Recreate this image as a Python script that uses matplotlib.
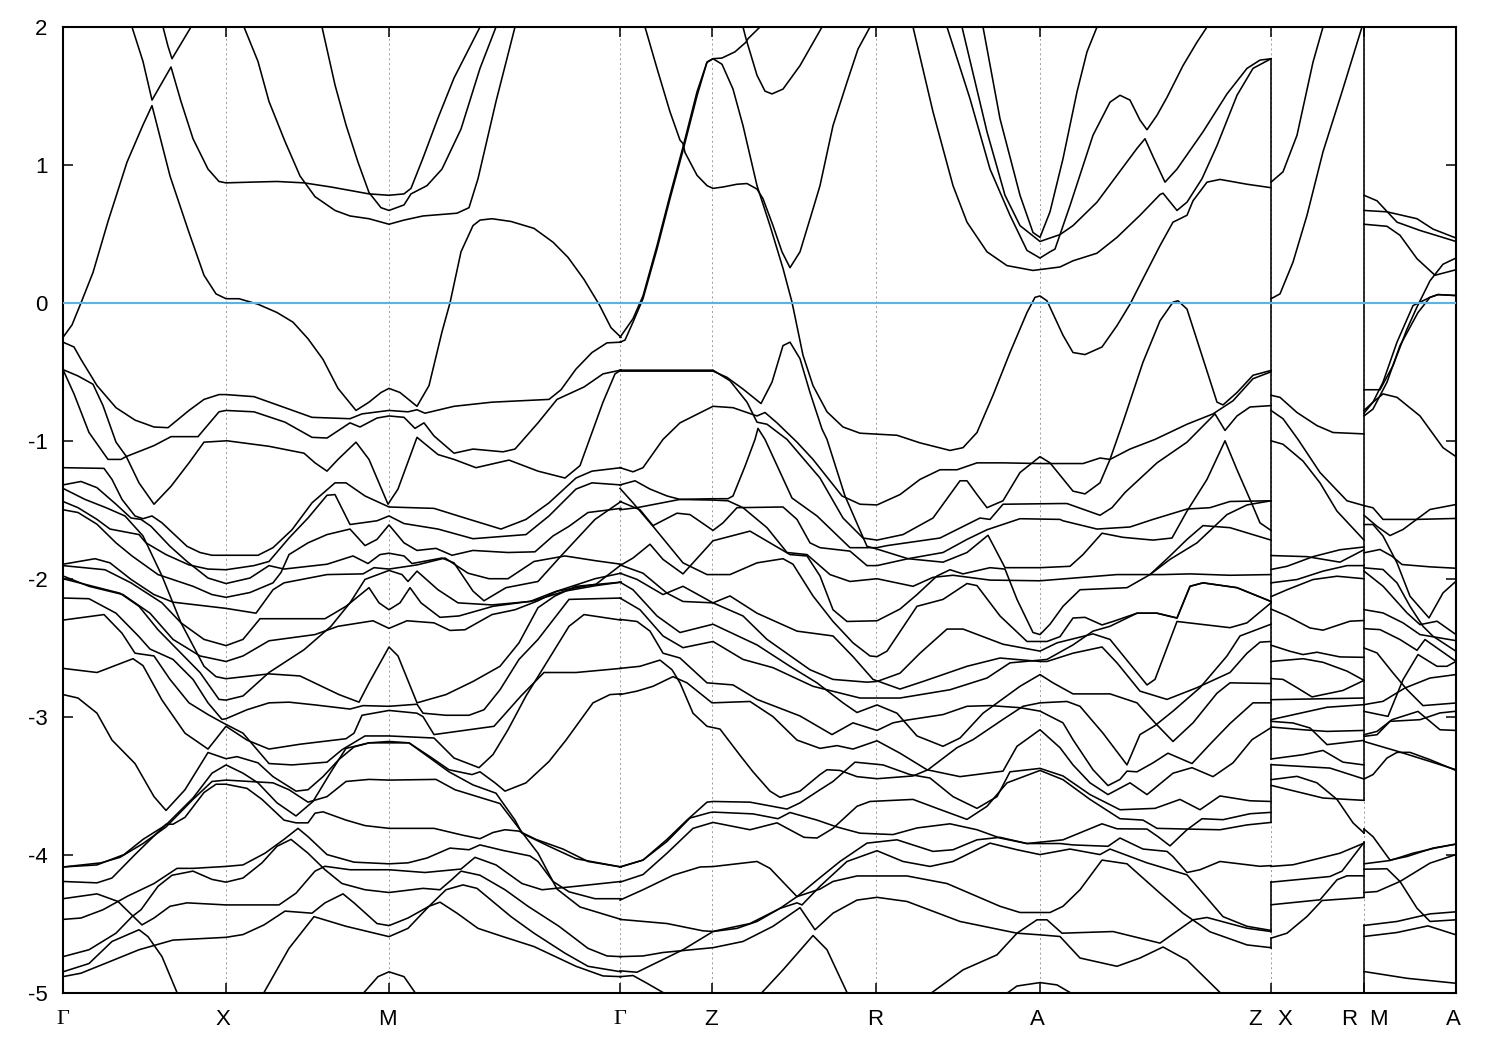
import matplotlib
matplotlib.use("Agg")
import matplotlib.pyplot as plt

# high symmetry points along the k path
node_k = [0, 163, 326, 557, 649, 813, 977, 1208, 1301, 1393]
label_names = ["Γ", "X", "M", "Γ", "Z", "R", "A", "Z", "X", "R", "M", "A"]
label_k = [0, 160, 324, 557, 648, 812, 974, 1192, 1222, 1286, 1315, 1390]
e_ticks = [2, 1, 0, -1, -2, -3, -4, -5]
e_tick_labels = ["2", "1", "0", "-1", "-2", "-3", "-4", "-5"]

# Gamma - X - M - Gamma, (k, E)
a_cond1 = [(0,-0.25),(9,-0.16),(18,0),(30,0.22),(45,0.59),(64,1.02),(80,1.29),(89,1.43),(107,0.92),(126,0.51),(141,0.2),(153,0.065),(163,0.03),(176,0.03),(195,-0.01),(214,-0.07),(230,-0.14),(245,-0.26),(260,-0.41),(275,-0.62),(293,-0.78),(306,-0.72),(318,-0.65),(326,-0.62),(337,-0.65),(354,-0.75),(366,-0.6),(379,-0.21),(387,0),(398,0.37),(410,0.56),(417,0.6),(429,0.61),(448,0.59),(471,0.54),(490,0.44),(505,0.33),(521,0.17),(536,-0.01),(548,-0.18),(558,-0.25)]
a_cond2 = [(69,2.0),(80,1.75),(89,1.47),(108,1.71),(118,1.46),(130,1.19),(145,0.97),(156,0.88),(163,0.87),(187,0.875),(214,0.88),(241,0.87),(268,0.84),(306,0.79),(326,0.78),(341,0.79),(348,0.83),(360,1.05),(375,1.34),(391,1.63),(417,2.0)]
a_cond3 = [(100,2.0),(105,1.86),(109,1.77),(128,2.0)]
a_cond4 = [(181,2.0),(195,1.75),(206,1.46),(222,1.17),(237,0.92),(252,0.77),(272,0.67),(287,0.63),(306,0.61),(326,0.57),(341,0.6),(360,0.63),(394,0.65),(406,0.69),(415,0.9),(433,1.46),(452,2.0)]
a_cond5 = [(259,2.0),(272,1.58),(283,1.29),(295,1.02),(306,0.8),(318,0.69),(326,0.67),(341,0.71),(348,0.79),(364,0.85),(379,0.97),(398,1.26),(417,1.7),(433,2.0)]
a_val1 = [(0,-0.285),(11,-0.32),(18,-0.41),(34,-0.6),(53,-0.76),(72,-0.85),(91,-0.9),(105,-0.905),(126,-0.78),(141,-0.7),(156,-0.665),(163,-0.665),(191,-0.68),(222,-0.76),(249,-0.83),(287,-0.84),(299,-0.805),(326,-0.78),(345,-0.79),(354,-0.775),(362,-0.8),(391,-0.75),(429,-0.72),(486,-0.7),(498,-0.63),(513,-0.48),(529,-0.36),(544,-0.29),(558,-0.285)]
a_val2 = [(0,-0.484),(15,-0.53),(30,-0.59),(40,-0.745),(53,-1.01),(63,-1.11),(76,-1.305),(91,-1.46),(108,-1.33),(126,-1.16),(141,-1.01),(164,-1.0),(206,-1.04),(241,-1.09),(252,-1.16),(264,-1.22),(275,-1.135),(293,-1.01),(306,-1.135),(325,-1.46),(335,-1.35),(354,-0.975),(375,-1.1),(391,-1.135),(413,-1.195),(446,-1.14),(475,-1.22),(502,-1.27),(517,-1.18),(529,-0.94),(540,-0.72),(552,-0.515),(558,-0.487)]
a_val3 = [(0,-0.484),(11,-0.66),(26,-0.94),(45,-1.135),(58,-1.135),(63,-1.115),(91,-1.035),(108,-0.97),(135,-0.97),(156,-0.79),(163,-0.78),(191,-0.79),(222,-0.865),(249,-0.975),(264,-0.98),(287,-0.87),(297,-0.9),(314,-0.835),(326,-0.82),(341,-0.83),(352,-0.91),(361,-0.87),(371,-0.965),(391,-1.09),(410,-1.06),(440,-1.08),(452,-1.06),(475,-0.87),(494,-0.7),(521,-0.61),(540,-0.515),(558,-0.487)]
a_mid1 = [(0,-1.195),(41,-1.2),(49,-1.28),(59,-1.425),(72,-1.545),(80,-1.565),(89,-1.545),(99,-1.595),(124,-1.765),(137,-1.81),(149,-1.83),(195,-1.83),(210,-1.775),(229,-1.645),(249,-1.45),(272,-1.305),(283,-1.305),(302,-1.40),(326,-1.48),(371,-1.49),(402,-1.56),(438,-1.64),(463,-1.57),(486,-1.45),(513,-1.27),(529,-1.22),(558,-1.195)]
a_mid2 = [(0,-1.44),(15,-1.485),(34,-1.57),(47,-1.64),(76,-1.68),(83,-1.74),(103,-1.825),(126,-1.9),(145,-1.93),(163,-1.935),(191,-1.905),(206,-1.875),(226,-1.705),(245,-1.56),(264,-1.395),(272,-1.39),(287,-1.607),(314,-1.58),(326,-1.545),(341,-1.6),(375,-1.64),(410,-1.71),(463,-1.68),(486,-1.545),(513,-1.35),(529,-1.305),(558,-1.32)]
a_mid3 = [(0,-1.32),(18,-1.295),(34,-1.34),(53,-1.46),(68,-1.56),(78,-1.57),(88,-1.62),(107,-1.765),(124,-1.875),(145,-1.995),(163,-2.035),(187,-1.995),(206,-1.905),(221,-1.93),(264,-1.895),(290,-1.835),(305,-1.89),(317,-1.825),(326,-1.815),(341,-1.835),(349,-1.89),(379,-1.85),(391,-1.885),(410,-2.09),(421,-2.16),(443,-2.065),(475,-2.02),(498,-1.835),(532,-1.57),(558,-1.44)]
a_mid4 = [(0,-1.50),(15,-1.52),(34,-1.605),(53,-1.74),(69,-1.835),(95,-1.97),(130,-2.055),(149,-2.115),(163,-2.135),(187,-2.1),(210,-2.03),(218,-1.955),(226,-1.825),(245,-1.74),(264,-1.68),(287,-1.64),(302,-1.76),(314,-1.715),(326,-1.61),(341,-1.74),(354,-1.795),(373,-1.78),(389,-1.83),(410,-1.795),(445,-1.81),(472,-1.805),(490,-1.69),(506,-1.62),(525,-1.52),(558,-1.49)]
a_mid5 = [(0,-1.895),(32,-1.855),(47,-1.885),(68,-2.005),(91,-2.115),(110,-2.17),(163,-2.215),(193,-2.25),(210,-2.08),(221,-2.03),(264,-1.97),(300,-1.965),(311,-1.92),(326,-1.93),(354,-1.90),(382,-1.85),(405,-1.96),(426,-2.0),(445,-2.0),(471,-1.875),(502,-1.835),(533,-1.87),(558,-1.895)]
a_mid6 = [(0,-1.905),(42,-1.935),(68,-2.03),(99,-2.175),(118,-2.32),(141,-2.44),(163,-2.485),(180,-2.44),(197,-2.29),(262,-2.29),(283,-2.2),(306,-2.065),(316,-2.175),(326,-2.225),(337,-2.175),(347,-2.065),(358,-2.175),(377,-2.28),(396,-2.27),(430,-2.2),(471,-2.16),(502,-2.09),(533,-2.05),(558,-2.025)]
a_mid7 = [(0,-1.98),(26,-2.055),(60,-2.115),(87,-2.25),(110,-2.44),(137,-2.56),(163,-2.6),(180,-2.56),(206,-2.45),(252,-2.405),(275,-2.345),(310,-2.305),(326,-2.36),(344,-2.305),(371,-2.32),(387,-2.375),(402,-2.37),(429,-2.26),(452,-2.225),(475,-2.16),(494,-2.09),(533,-2.04),(558,-1.9)]
a_mid8 = [(0,-2.0),(57,-2.105),(76,-2.2),(95,-2.37),(118,-2.54),(137,-2.68),(156,-2.875),(163,-2.88),(180,-2.85),(206,-2.68),(241,-2.515),(268,-2.345),(287,-2.175),(302,-2.005),(326,-1.94),(339,-1.97),(345,-2.02),(354,-1.945),(375,-2.08),(395,-2.175),(429,-2.19),(467,-2.165),(490,-2.1),(532,-2.0),(558,-1.96)]
a_mid9 = [(0,-1.345),(22,-1.425),(43,-1.485),(62,-1.545),(80,-1.69),(99,-1.98),(118,-2.32),(141,-2.635),(153,-2.71),(163,-2.725),(206,-2.69),(237,-2.705),(276,-2.84),(296,-2.895),(306,-2.755),(326,-2.495),(335,-2.56),(354,-2.9),(383,-2.84),(410,-2.745),(437,-2.635),(456,-2.465),(475,-2.21),(492,-2.125),(513,-2.055),(558,-2.025)]
a_low1 = [(0,-2.14),(26,-2.145),(53,-2.25),(76,-2.42),(87,-2.51),(110,-2.585),(130,-2.73),(145,-2.9),(159,-3.02),(163,-3.015),(184,-2.95),(206,-2.9),(226,-2.895),(252,-2.915),(287,-2.945),(300,-2.92),(326,-2.925),(354,-2.91),(360,-2.975),(383,-2.99),(406,-2.99),(421,-2.95),(437,-2.805),(456,-2.585),(475,-2.44),(506,-2.15),(558,-2.14)]
a_low2 = [(0,-2.65),(34,-2.68),(70,-2.58),(80,-2.63),(99,-2.88),(122,-3.12),(145,-3.235),(163,-3.07),(184,-3.17),(206,-3.235),(237,-3.2),(283,-3.16),(291,-3.12),(299,-2.99),(326,-2.955),(354,-2.975),(360,-3.0),(371,-3.13),(431,-3.07),(458,-2.85),(481,-2.68),(513,-2.68),(558,-2.65)]
a_low3 = [(0,-2.3),(41,-2.26),(59,-2.395),(72,-2.54),(91,-2.56),(107,-2.73),(126,-2.9),(145,-2.985),(160,-3.045),(180,-3.12),(206,-3.34),(229,-3.35),(264,-3.33),(279,-3.24),(302,-3.14),(326,-3.14),(371,-3.155),(391,-3.3),(416,-3.37),(430,-3.275),(445,-3.095),(463,-2.85),(506,-2.345),(521,-2.26),(558,-2.3)]
a_low4 = [(0,-2.84),(15,-2.865),(34,-2.975),(49,-3.17),(72,-3.34),(91,-3.58),(103,-3.68),(122,-3.53),(145,-3.26),(163,-3.305),(174,-3.29),(195,-3.335),(210,-3.435),(233,-3.54),(245,-3.53),(260,-3.435),(276,-3.31),(291,-3.22),(306,-3.19),(326,-3.18),(346,-3.19),(367,-3.29),(386,-3.385),(409,-3.42),(417,-3.40),(432,-3.48),(442,-3.54),(463,-3.48),(486,-3.325),(503,-3.17),(530,-2.9),(547,-2.84),(558,-2.835)]
a_low5 = [(0,-4.09),(34,-4.075),(61,-4.0),(80,-3.89),(103,-3.785),(130,-3.59),(149,-3.41),(163,-3.35),(180,-3.41),(195,-3.48),(214,-3.625),(233,-3.72),(250,-3.615),(268,-3.40),(283,-3.23),(306,-3.19),(326,-3.19),(346,-3.19),(367,-3.30),(386,-3.40),(410,-3.495),(433,-3.555),(452,-3.75),(459,-3.845),(486,-3.94),(513,-4.03),(558,-4.09)]
a_low6 = [(0,-4.09),(38,-4.06),(57,-4.02),(80,-3.92),(103,-3.8),(130,-3.6),(149,-3.47),(163,-3.46),(210,-3.48),(226,-3.53),(245,-3.62),(264,-3.58),(283,-3.47),(306,-3.455),(326,-3.46),(373,-3.455),(392,-3.53),(437,-3.63),(456,-3.81),(475,-3.99),(494,-4.25),(517,-4.38),(558,-4.47)]
a_low7 = [(0,-4.195),(34,-4.205),(49,-4.17),(72,-4.0),(103,-3.78),(110,-3.78),(122,-3.73),(141,-3.55),(153,-3.49),(163,-3.49),(184,-3.52),(199,-3.6),(221,-3.75),(233,-3.77),(245,-3.77),(252,-3.7),(260,-3.69),(283,-3.75),(302,-3.79),(326,-3.81),(371,-3.81),(400,-3.86),(417,-3.885),(430,-3.84),(442,-3.82),(456,-3.83),(473,-3.89),(500,-3.96),(525,-4.05),(558,-4.09)]
a_deep1 = [(0,-4.32),(34,-4.285),(55,-4.34),(79,-4.51),(91,-4.46),(107,-4.375),(124,-4.35),(163,-4.365),(216,-4.365),(233,-4.28),(252,-4.12),(262,-4.085),(287,-4.11),(326,-4.11),(362,-4.13),(398,-4.105),(412,-4.02),(433,-4.075),(459,-4.21),(479,-4.255),(513,-4.23),(558,-4.195)]
a_deep2 = [(0,-4.47),(18,-4.46),(40,-4.40),(65,-4.30),(91,-4.21),(114,-4.10),(130,-4.1),(163,-4.086),(180,-4.075),(202,-3.99),(221,-3.89),(235,-3.81),(245,-3.87),(264,-4.0),(291,-4.055),(326,-4.067),(345,-4.06),(364,-4.025),(387,-3.953),(406,-3.965),(417,-3.93),(440,-3.97),(467,-4.01),(475,-4.05),(490,-4.195),(506,-4.27),(532,-4.32),(558,-4.32)]
a_deep3 = [(0,-4.74),(26,-4.69),(53,-4.57),(69,-4.45),(78,-4.40),(95,-4.23),(109,-4.15),(130,-4.12),(149,-4.18),(163,-4.2),(180,-4.17),(199,-4.06),(214,-3.94),(228,-3.89),(245,-3.99),(262,-4.11),(279,-4.21),(302,-4.255),(326,-4.275),(360,-4.245),(377,-4.255),(389,-4.18),(398,-4.12),(417,-4.15),(442,-4.255),(465,-4.375),(496,-4.52),(525,-4.68),(544,-4.735),(558,-4.74)]
a_deep4 = [(0,-4.885),(18,-4.86),(42,-4.79),(76,-4.69),(110,-4.62),(163,-4.6),(180,-4.58),(201,-4.51),(222,-4.41),(249,-4.425),(262,-4.35),(280,-4.285),(291,-4.35),(314,-4.5),(326,-4.515),(345,-4.46),(366,-4.375),(377,-4.345),(394,-4.425),(415,-4.535),(440,-4.595),(471,-4.667),(513,-4.81),(540,-4.88),(558,-4.885)]
a_deep5 = [(0,-4.85),(26,-4.79),(49,-4.63),(76,-4.545),(85,-4.595),(99,-4.74),(114,-5.0)]
a_deep6 = [(201,-5.0),(226,-4.68),(251,-4.45),(283,-4.52),(326,-4.595),(345,-4.535),(366,-4.375),(383,-4.255),(400,-4.22),(414,-4.245),(448,-4.45),(471,-4.57),(502,-4.715),(525,-4.81),(558,-4.85)]
a_deep7 = [(301,-5.0),(315,-4.885),(326,-4.85),(341,-4.885),(352,-5.0)]

# Gamma - Z - R - A - Z
b_cond1 = [(557,-0.25),(570,-0.115),(580,0.05),(594,0.415),(607,0.78),(620,1.13),(634,1.53),(644,1.745),(650,1.77),(659,1.73),(670,1.55),(680,1.285),(694,0.85),(707,0.56),(720,0.25),(729,0.005),(740,-0.38),(750,-0.6),(764,-0.79),(780,-0.9),(797,-0.945),(834,-0.96),(857,-1.015),(887,-1.07),(900,-1.05),(914,-0.94),(930,-0.67),(947,-0.36),(964,-0.07),(972,0.04),(977,0.05),(984,0.015),(1000,-0.235),(1010,-0.36),(1022,-0.375),(1039,-0.32),(1054,-0.165),(1067,-0.01),(1080,0.175),(1097,0.415),(1110,0.585),(1124,0.635),(1130,0.74),(1144,0.875),(1157,0.895),(1184,0.86),(1208,0.835)]
b_cond2 = [(557,-0.285),(562,-0.27),(570,-0.14),(580,0.03),(594,0.39),(607,0.755),(620,1.105),(634,1.5),(644,1.745),(650,1.77),(659,1.775),(672,1.82),(683,1.89),(685,1.915),(697,2.0)]
b_cond3 = [(680,2.0),(683,1.915),(694,1.65),(702,1.535),(709,1.515),(720,1.55),(737,1.72),(759,2.0)]
b_cond4 = [(582,2.0),(594,1.70),(607,1.385),(617,1.18),(620,1.155),(622,1.09),(634,0.925),(644,0.85),(650,0.83),(660,0.84),(674,0.86),(684,0.865),(694,0.825),(700,0.755),(710,0.56),(719,0.37),(727,0.255),(737,0.37),(750,0.68),(757,0.85),(770,1.285),(784,1.6),(795,1.84),(807,2.0)]
b_cond5 = [(920,2.0),(937,1.335),(957,0.78),(970,0.51),(977,0.475),(987,0.66),(1000,1.045),(1014,1.53),(1024,1.82),(1034,2.0)]
b_cond6 = [(884,2.0),(907,1.48),(927,0.97),(947,0.635),(964,0.38),(977,0.325),(987,0.37),(992,0.39),(1007,0.705),(1030,1.215),(1047,1.455),(1057,1.505),(1067,1.47),(1077,1.325),(1084,1.255),(1094,1.36),(1104,1.49),(1120,1.72),(1134,1.89),(1144,2.0)]
b_cond7 = [(899,2.0),(924,1.24),(942,0.78),(957,0.56),(977,0.445),(997,0.495),(1010,0.56),(1034,0.73),(1054,0.925),(1074,1.12),(1082,1.19),(1091,1.045),(1102,0.875),(1114,0.97),(1140,1.24),(1164,1.515),(1184,1.7),(1197,1.76),(1208,1.77)]
b_cond8 = [(850,2.0),(870,1.385),(890,0.85),(904,0.585),(924,0.37),(944,0.27),(970,0.235),(997,0.26),(1010,0.305),(1034,0.36),(1054,0.475),(1077,0.635),(1097,0.785),(1100,0.795),(1114,0.67),(1124,0.73),(1139,0.9),(1154,1.14),(1174,1.505),(1190,1.7),(1208,1.77)]
b_mid1 = [(557,-1.195),(570,-1.225),(580,-1.195),(600,-0.99),(617,-0.87),(650,-0.75),(670,-0.76),(694,-0.82),(702,-0.795),(714,-0.87),(734,-1.01),(750,-1.135),(779,-1.4),(797,-1.46),(814,-1.465),(837,-1.39),(857,-1.28),(877,-1.21),(894,-1.21),(914,-1.16),(940,-1.16),(977,-1.165),(1020,-1.165),(1037,-1.125),(1047,-1.135),(1067,-1.06),(1092,-0.99),(1124,-0.88),(1150,-0.805),(1170,-0.71),(1190,-0.55),(1208,-0.5)]
b_mid2 = [(557,-0.488),(650,-0.488),(667,-0.565),(684,-0.72),(694,-0.865),(704,-0.88),(724,-0.99),(757,-1.27),(780,-1.56),(800,-1.705),(814,-1.72),(840,-1.68),(870,-1.56),(897,-1.29),(904,-1.29),(914,-1.39),(924,-1.485),(940,-1.435),(957,-1.23),(977,-1.115),(987,-1.16),(1010,-1.365),(1022,-1.385),(1037,-1.305),(1047,-1.135),(1054,-0.99),(1060,-0.865),(1080,-0.43),(1097,-0.13),(1110,0.005),(1115,0.015),(1124,-0.045),(1140,-0.405),(1154,-0.72),(1160,-0.74),(1174,-0.65),(1190,-0.525),(1208,-0.49)]
b_mid3 = [(557,-0.495),(650,-0.495),(664,-0.54),(680,-0.625),(698,-0.73),(709,-0.575),(720,-0.31),(727,-0.285),(737,-0.405),(747,-0.65),(759,-0.915),(764,-0.99),(782,-1.4),(804,-1.765),(814,-1.785),(845,-1.855),(880,-1.88),(904,-1.81),(925,-1.685),(942,-1.92),(977,-1.92),(1007,-1.91),(1020,-1.825),(1039,-1.67),(1060,-1.7),(1090,-1.72),(1109,-1.705),(1124,-1.51),(1144,-1.28),(1162,-1.0),(1174,-1.21),(1187,-1.425),(1197,-1.595),(1208,-1.65)]
b_mid4 = [(557,-1.32),(572,-1.29),(587,-1.35),(604,-1.4),(617,-1.425),(650,-1.43),(665,-1.435),(680,-1.485),(704,-1.63),(724,-1.81),(744,-1.825),(767,-1.97),(787,-2.02),(814,-2.0),(850,-2.055),(870,-1.99),(890,-1.975),(927,-2.01),(977,-2.015),(1054,-1.97),(1100,-1.97),(1127,-1.965),(1167,-1.975),(1208,-1.97)]
b_mid5 = [(557,-1.5),(574,-1.485),(617,-1.425),(650,-1.42),(665,-1.42),(670,-1.4),(682,-1.185),(692,-0.99),(695,-0.91),(702,-0.99),(729,-1.415),(754,-1.545),(787,-1.775),(814,-1.775),(824,-1.76),(877,-1.705),(917,-1.56),(927,-1.57),(940,-1.46),(997,-1.455),(1004,-1.455),(1037,-1.54),(1049,-1.485),(1062,-1.375),(1094,-1.16),(1124,-1.01),(1152,-0.805),(1162,-0.925),(1174,-0.82),(1187,-0.755),(1208,-0.745)]
b_mid6 = [(557,-1.44),(577,-1.5),(590,-1.615),(614,-1.525),(627,-1.535),(650,-1.65),(660,-1.595),(674,-1.485),(720,-1.48),(734,-1.57),(747,-1.74),(757,-1.775),(787,-1.8),(804,-1.905),(814,-1.905),(845,-1.855),(880,-1.81),(904,-1.715),(924,-1.645),(957,-1.565),(997,-1.57),(1000,-1.58),(1034,-1.64),(1067,-1.625),(1090,-1.57),(1124,-1.495),(1147,-1.485),(1167,-1.44),(1208,-1.435)]
b_mid7 = [(557,-1.905),(570,-1.85),(587,-1.75),(600,-1.86),(620,-1.965),(650,-1.725),(687,-1.655),(707,-1.74),(727,-1.825),(744,-1.835),(757,-1.98),(770,-2.225),(784,-2.31),(814,-2.305),(837,-2.22),(854,-2.115),(874,-1.98),(887,-1.935),(900,-1.965),(927,-1.92),(942,-1.93),(954,-2.15),(970,-2.39),(977,-2.405),(987,-2.33),(1000,-2.2),(1017,-2.08),(1064,-2.065),(1087,-1.97),(1107,-1.835),(1124,-1.715),(1140,-1.615),(1167,-1.63),(1208,-1.72)]
b_mid7b = [(1087,-1.97),(1107,-1.86),(1134,-1.74),(1164,-1.535),(1184,-1.465),(1208,-1.435)]
b_mid8 = [(557,-1.345),(570,-1.45),(590,-1.62),(620,-1.885),(644,-1.97),(667,-1.97),(694,-1.885),(720,-1.855),(730,-1.895),(750,-2.125),(770,-2.31),(790,-2.465),(807,-2.56),(814,-2.565),(824,-2.525),(854,-2.2),(880,-2.15),(904,-2.035),(914,-2.05),(937,-2.27),(964,-2.455),(984,-2.455),(997,-2.42),(1010,-2.285),(1022,-2.28),(1039,-2.335),(1050,-2.31),(1074,-2.25),(1094,-2.25),(1114,-2.285),(1127,-2.055),(1140,-2.03),(1174,-2.065),(1208,-2.165)]
b_mid9 = [(557,-1.96),(574,-2.005),(600,-2.115),(620,-2.055),(650,-2.175),(667,-2.125),(694,-2.25),(734,-2.38),(770,-2.415),(790,-2.565),(810,-2.73),(837,-2.8),(860,-2.745),(904,-2.635),(937,-2.575),(977,-2.6),(984,-2.6),(1010,-2.54),(1039,-2.495),(1054,-2.61),(1077,-2.815),(1104,-2.875),(1134,-2.79),(1167,-2.68),(1184,-2.54),(1197,-2.46),(1208,-2.455)]
b_mid10 = [(557,-1.9),(580,-1.96),(604,-2.105),(620,-2.165),(650,-2.175),(680,-2.27),(704,-2.44),(747,-2.66),(770,-2.73),(804,-2.75),(814,-2.745),(837,-2.685),(857,-2.54),(884,-2.365),(900,-2.365),(940,-2.475),(977,-2.525),(994,-2.465),(1030,-2.40),(1047,-2.44),(1084,-2.77),(1092,-2.73),(1114,-2.31),(1167,-2.355),(1184,-2.32),(1208,-2.175)]
b_low1 = [(557,-2.025),(570,-2.08),(594,-2.27),(617,-2.39),(650,-2.33),(694,-2.48),(727,-2.635),(754,-2.755),(780,-2.9),(794,-2.97),(814,-2.915),(834,-2.975),(854,-3.14),(880,-3.215),(897,-3.155),(920,-2.975),(957,-2.78),(977,-2.695),(990,-2.755),(1010,-2.835),(1047,-2.835),(1074,-2.9),(1092,-3.045),(1110,-3.18),(1130,-3.045),(1154,-2.83),(1167,-2.755),(1208,-2.76)]
b_low2 = [(557,-2.14),(577,-2.225),(600,-2.415),(620,-2.5),(650,-2.455),(680,-2.585),(710,-2.645),(750,-2.78),(797,-2.865),(837,-2.865),(887,-2.805),(924,-2.72),(947,-2.61),(977,-2.59),(984,-2.585),(1010,-2.48),(1030,-2.38),(1047,-2.345),(1074,-2.25),(1094,-2.25),(1114,-2.285),(1127,-2.055),(1140,-2.03),(1174,-2.065),(1208,-2.165)]
b_low3 = [(557,-2.295),(574,-2.31),(587,-2.38),(600,-2.54),(617,-2.575),(644,-2.755),(670,-2.77),(694,-2.875),(737,-2.995),(769,-3.13),(790,-3.045),(814,-3.1),(830,-3.045),(844,-3.025),(880,-2.985),(904,-2.925),(927,-2.92),(957,-2.935),(977,-2.96),(1000,-3.045),(1010,-3.167),(1030,-3.385),(1045,-3.5),(1057,-3.455),(1064,-3.395),(1074,-3.4),(1090,-3.335),(1105,-3.265),(1129,-3.34),(1147,-3.2),(1167,-3.05),(1190,-2.9),(1208,-2.9)]
b_low4 = [(557,-2.65),(577,-2.635),(597,-2.59),(609,-2.66),(617,-2.755),(630,-2.975),(644,-3.07),(657,-3.09),(677,-3.28),(690,-3.40),(707,-3.54),(717,-3.585),(737,-3.54),(757,-3.42),(764,-3.385),(777,-3.39),(794,-3.435),(814,-3.45),(850,-3.43),(865,-3.385),(894,-3.225),(910,-3.167),(940,-3.02),(960,-2.925),(977,-2.9),(1004,-2.89),(1017,-2.925),(1040,-3.12),(1064,-3.35),(1077,-3.13),(1092,-3.065),(1110,-2.96),(1137,-2.79),(1164,-2.56),(1177,-2.415),(1208,-2.33)]
b_low5 = [(557,-2.84),(574,-2.815),(590,-2.78),(610,-2.71),(624,-2.755),(649,-2.9),(687,-2.89),(710,-3.0),(734,-3.17),(757,-3.23),(774,-3.21),(790,-3.235),(814,-3.175),(837,-3.265),(864,-3.385),(897,-3.435),(940,-3.395),(954,-3.215),(977,-3.095),(997,-3.225),(1010,-3.35),(1027,-3.48),(1045,-3.565),(1067,-3.48),(1084,-3.565),(1110,-3.41),(1129,-3.37),(1150,-3.435),(1170,-3.335),(1189,-3.167),(1208,-3.08)]
b_deep1 = [(557,-4.09),(580,-4.04),(604,-3.89),(624,-3.75),(644,-3.62),(650,-3.615),(687,-3.62),(724,-3.67),(737,-3.625),(757,-3.53),(770,-3.47),(792,-3.33),(820,-3.35),(847,-3.42),(867,-3.445),(890,-3.58),(914,-3.665),(934,-3.58),(947,-3.4),(977,-3.375),(1000,-3.43),(1027,-3.565),(1057,-3.675),(1092,-3.665),(1117,-3.6),(1137,-3.675),(1157,-3.575),(1187,-3.61),(1208,-3.615)]
b_deep2 = [(557,-4.09),(580,-4.04),(604,-3.905),(627,-3.735),(647,-3.695),(650,-3.692),(690,-3.705),(715,-3.74),(727,-3.695),(754,-3.75),(774,-3.8),(797,-3.845),(830,-3.855),(854,-3.807),(887,-3.777),(914,-3.82),(937,-3.88),(964,-3.92),(997,-3.92),(1010,-3.93),(1045,-3.94),(1057,-3.88),(1080,-3.96),(1104,-3.977),(1110,-4.015),(1124,-4.13),(1137,-4.11),(1157,-4.05),(1197,-4.085),(1208,-4.08)]
b_deep3 = [(557,-4.2),(580,-4.145),(604,-3.99),(630,-3.81),(650,-3.767),(687,-3.82),(714,-3.77),(741,-3.875),(754,-3.88),(770,-3.81),(794,-3.65),(807,-3.615),(850,-3.6),(874,-3.665),(904,-3.745),(924,-3.65),(944,-3.48),(977,-3.39),(1000,-3.457),(1027,-3.6),(1057,-3.74),(1080,-3.75),(1094,-3.81),(1124,-3.815),(1157,-3.82),(1184,-3.785),(1208,-3.767)]
b_deep4 = [(557,-4.33),(580,-4.255),(610,-4.15),(637,-4.09),(650,-4.087),(694,-4.05),(707,-4.1),(734,-4.305),(757,-4.25),(770,-4.195),(794,-4.155),(844,-4.155),(884,-4.21),(937,-4.375),(957,-4.42),(987,-4.42),(1000,-4.375),(1017,-4.255),(1039,-4.04),(1064,-4.067),(1097,-4.28),(1120,-4.425),(1147,-4.56),(1184,-4.655),(1208,-4.675)]
b_deep5 = [(557,-4.47),(604,-4.5),(640,-4.553),(650,-4.557),(687,-4.5),(717,-4.39),(734,-4.305),(754,-4.185),(777,-4.05),(804,-3.917),(834,-3.893),(870,-3.977),(890,-3.965),(914,-3.893),(937,-3.875),(964,-3.92),(1000,-3.893),(1039,-3.777),(1054,-3.813),(1084,-3.815),(1095,-3.87),(1107,-3.937),(1124,-3.82),(1139,-3.74),(1160,-3.747),(1187,-3.704),(1208,-3.694)]
b_deep6 = [(557,-4.74),(580,-4.735),(600,-4.71),(650,-4.675),(680,-4.63),(710,-4.52),(737,-4.385),(752,-4.545),(770,-4.425),(794,-4.33),(814,-4.31),(844,-4.34),(897,-4.485),(954,-4.57),(977,-4.582),(997,-4.594),(1017,-4.75),(1054,-4.81),(1077,-4.75),(1100,-4.67),(1124,-4.765),(1157,-5.0)]
b_deep7 = [(557,-4.843),(574,-4.853),(620,-4.69),(650,-4.558),(674,-4.535),(694,-4.485),(717,-4.39),(734,-4.35),(739,-4.365),(757,-4.23),(784,-4.05),(814,-3.972),(840,-4.05),(867,-4.086),(890,-4.05),(927,-3.917),(954,-3.965),(977,-4.0),(1007,-3.96),(1037,-4.0),(1047,-3.96),(1084,-4.06),(1124,-4.147),(1160,-4.45),(1184,-4.52),(1208,-4.55)]
b_deep8 = [(869,-5.0),(900,-4.836),(934,-4.727),(954,-4.57),(974,-4.473),(984,-4.473),(999,-4.57),(1050,-4.558),(1097,-4.642),(1130,-4.473),(1144,-4.456),(1184,-4.534),(1208,-4.558)]
b_deep9 = [(557,-4.885),(570,-4.877),(584,-4.933),(600,-5.0)]
b_deep10 = [(699,-5.0),(720,-4.836),(750,-4.587),(764,-4.69),(784,-5.0)]
b_deep11 = [(945,-5.0),(954,-4.953),(977,-4.928),(994,-4.945),(1007,-5.0)]

# X - R
c_01 = [(1208,0.03),(1217,0.065),(1230,0.295),(1244,0.635),(1260,1.095),(1279,1.53),(1299,2.0)]
c_02 = [(1208,0.875),(1220,0.95),(1234,1.215),(1250,1.745),(1260,2.0)]
c_03 = [(1208,-0.67),(1217,-0.685),(1234,-0.795),(1254,-0.89),(1270,-0.94),(1301,-0.95)]
c_04 = [(1208,-0.78),(1220,-0.84),(1235,-0.99),(1257,-1.23),(1284,-1.435),(1301,-1.47)]
c_05 = [(1208,-1.0),(1220,-1.025),(1240,-1.147),(1257,-1.305),(1274,-1.51),(1301,-1.72)]
c_06 = [(1208,-1.832),(1244,-1.84),(1277,-1.88),(1301,-1.79)]
c_07 = [(1208,-1.933),(1224,-1.91),(1250,-1.84),(1277,-1.79),(1301,-1.77)]
c_08 = [(1208,-2.03),(1234,-2.006),(1260,-1.945),(1284,-1.905),(1301,-1.905)]
c_09 = [(1208,-2.13),(1224,-2.08),(1250,-2.006),(1274,-1.982),(1301,-2.0)]
c_10 = [(1208,-2.22),(1224,-2.27),(1247,-2.357),(1260,-2.373),(1287,-2.308),(1301,-2.303)]
c_11 = [(1208,-2.482),(1227,-2.526),(1240,-2.55),(1254,-2.533),(1277,-2.567),(1301,-2.57)]
c_12 = [(1208,-2.6),(1240,-2.58),(1260,-2.606),(1284,-2.67),(1301,-2.737)]
c_13 = [(1208,-2.724),(1220,-2.73),(1234,-2.79),(1249,-2.857),(1280,-2.81),(1301,-2.737)]
c_14 = [(1208,-2.877),(1301,-2.865)]
c_15 = [(1208,-3.022),(1264,-2.932),(1301,-2.913)]
c_16 = [(1208,-3.034),(1230,-3.046),(1247,-3.082),(1264,-3.203),(1301,-3.172)]
c_17 = [(1208,-3.075),(1240,-3.095),(1264,-3.107),(1301,-3.1)]
c_18 = [(1208,-3.307),(1240,-3.276),(1260,-3.245),(1280,-3.33),(1301,-3.35)]
c_19 = [(1208,-3.348),(1267,-3.373),(1301,-3.452)]
c_20 = [(1208,-3.457),(1234,-3.433),(1254,-3.48),(1274,-3.6),(1290,-3.77),(1301,-3.844)]
c_21 = [(1208,-3.498),(1260,-3.59),(1301,-3.607)]
c_22 = [(1208,-4.086),(1230,-4.074),(1277,-3.99),(1301,-3.917)]
c_23 = [(1208,-4.2),(1267,-4.159),(1279,-4.12),(1301,-3.912)]
c_24 = [(1208,-4.364),(1257,-4.328),(1274,-4.183),(1284,-4.154),(1301,-4.154)]
c_25 = [(1208,-4.606),(1224,-4.57),(1244,-4.449),(1259,-4.333),(1301,-4.311)]

# M - A
d_01 = [(1301,-0.63),(1317,-0.63),(1330,-0.455),(1344,-0.19),(1354,-0.03),(1367,0.16),(1380,0.28),(1393,0.325)]
d_02 = [(1301,-0.78),(1310,-0.72),(1320,-0.575),(1334,-0.285),(1350,-0.02),(1367,0.04),(1375,0.06),(1393,0.053)]
d_03 = [(1301,-0.82),(1310,-0.77),(1324,-0.575),(1337,-0.31),(1355,-0.07),(1367,0.04),(1375,0.06),(1393,0.053)]
d_04 = [(1301,0.78),(1314,0.74),(1334,0.585),(1357,0.525),(1393,0.445)]
d_05 = [(1301,0.67),(1324,0.66),(1354,0.61),(1370,0.535),(1393,0.47)]
d_06 = [(1301,0.57),(1324,0.555),(1337,0.49),(1354,0.32),(1372,0.2),(1393,0.24)]
d_07 = [(1301,-0.8),(1310,-0.72),(1320,-0.66),(1334,-0.685),(1357,-0.82),(1380,-1.05),(1393,-1.115)]
d_08 = [(1301,-1.47),(1310,-1.486),(1320,-1.57),(1354,-1.57),(1393,-1.563)]
d_09 = [(1301,-1.54),(1314,-1.62),(1327,-1.687),(1340,-1.643),(1367,-1.498),(1393,-1.462)]
d_10 = [(1301,-1.607),(1310,-1.607),(1320,-1.69),(1334,-1.885),(1347,-2.127),(1366,-2.284),(1380,-2.103),(1393,-2.018)]
d_11 = [(1301,-1.812),(1317,-1.788),(1329,-1.837),(1339,-1.897),(1367,-1.914),(1393,-1.924)]
d_12 = [(1301,-1.921),(1320,-1.933),(1334,-2.03),(1347,-2.2),(1360,-2.345),(1370,-2.417),(1393,-2.526)]
d_13 = [(1301,-1.945),(1320,-2.054),(1344,-2.248),(1357,-2.333),(1374,-2.308),(1393,-2.405)]
d_14 = [(1301,-2.224),(1320,-2.248),(1340,-2.32),(1357,-2.405),(1393,-2.449)]
d_15 = [(1301,-2.362),(1317,-2.369),(1337,-2.441),(1354,-2.519),(1362,-2.441),(1393,-2.599)]
d_16 = [(1301,-2.962),(1325,-2.998),(1340,-2.732),(1355,-2.55),(1374,-2.635),(1384,-2.635),(1393,-2.599)]
d_17 = [(1301,-2.502),(1314,-2.538),(1330,-2.683),(1344,-2.804),(1360,-2.92),(1393,-2.901)]
d_18 = [(1301,-2.913),(1320,-2.889),(1342,-2.792),(1367,-2.72),(1393,-2.695)]
d_19 = [(1301,-3.131),(1314,-3.107),(1329,-3.022),(1355,-2.962),(1377,-3.095),(1393,-3.1)]
d_20 = [(1301,-3.143),(1314,-3.131),(1327,-3.034),(1357,-3.022),(1377,-2.973),(1393,-2.961)]
d_21 = [(1301,-3.18),(1334,-3.25),(1367,-3.325),(1393,-3.385)]
d_22 = [(1301,-3.452),(1310,-3.42),(1324,-3.3),(1334,-3.259),(1347,-3.259),(1367,-3.312),(1393,-3.39)]
d_23 = [(1301,-3.815),(1310,-3.87),(1327,-4.04),(1344,-4.014),(1370,-3.953),(1393,-3.924)]
d_24 = [(1301,-4.067),(1327,-4.043),(1350,-3.99),(1372,-3.953),(1393,-3.924)]
d_25 = [(1301,-4.106),(1324,-4.103),(1337,-4.195),(1354,-4.389),(1367,-4.485),(1393,-4.473)]
d_26 = [(1301,-4.275),(1314,-4.268),(1337,-4.195),(1367,-4.062),(1393,-4.0)]
d_27 = [(1301,-4.514),(1334,-4.485),(1367,-4.43),(1393,-4.415)]
d_28 = [(1301,-4.594),(1334,-4.565),(1365,-4.517),(1393,-4.582)]
d_29 = [(1301,-4.848),(1344,-4.897),(1393,-4.933)]

# jumps where the path breaks, the plot joins the band ends with a vertical line
jump_1 = [(1208,1.77),(1208,-3.307)]
jump_2 = [(1208,-3.348),(1208,-3.767)]
jump_3 = [(1208,-4.2),(1208,-4.558)]
jump_4 = [(1208,-4.606),(1208,-4.675)]
jump_5 = [(1301,2.0),(1301,-3.607)]
jump_6 = [(1301,-3.815),(1301,-3.844)]
jump_7 = [(1301,-3.912),(1301,-4.311)]
jump_8 = [(1301,-4.514),(1301,-5.0)]

bands = [a_cond1, a_cond2, a_cond3, a_cond4, a_cond5, a_val1, a_val2, a_val3,
         a_mid1, a_mid2, a_mid3, a_mid4, a_mid5, a_mid6, a_mid7, a_mid8, a_mid9,
         a_low1, a_low2, a_low3, a_low4, a_low5, a_low6, a_low7,
         a_deep1, a_deep2, a_deep3, a_deep4, a_deep5, a_deep6, a_deep7,
         b_cond1, b_cond2, b_cond3, b_cond4, b_cond5, b_cond6, b_cond7, b_cond8,
         b_mid1, b_mid2, b_mid3, b_mid4, b_mid5, b_mid6, b_mid7, b_mid7b, b_mid8, b_mid9, b_mid10,
         b_low1, b_low2, b_low3, b_low4, b_low5,
         b_deep1, b_deep2, b_deep3, b_deep4, b_deep5, b_deep6, b_deep7, b_deep8, b_deep9, b_deep10, b_deep11,
         c_01, c_02, c_03, c_04, c_05, c_06, c_07, c_08, c_09, c_10, c_11, c_12, c_13,
         c_14, c_15, c_16, c_17, c_18, c_19, c_20, c_21, c_22, c_23, c_24, c_25,
         d_01, d_02, d_03, d_04, d_05, d_06, d_07, d_08, d_09, d_10, d_11, d_12, d_13, d_14, d_15,
         d_16, d_17, d_18, d_19, d_20, d_21, d_22, d_23, d_24, d_25, d_26, d_27, d_28, d_29,
         jump_1, jump_2, jump_3, jump_4, jump_5, jump_6, jump_7, jump_8]

plt.rcParams['font.family'] = ['Liberation Sans', 'DejaVu Sans']

fig = plt.figure(figsize=(15, 10.5), dpi=100)
ax = fig.add_axes([63 / 1500, 57.5 / 1050, 1393 / 1500, 965.5 / 1050])

for k in node_k[:-1]:
    ax.axvline(k, color='#9a9a9a', lw=0.7, ls=(0, (2, 3)), zorder=1)

for band in bands:
    ax.plot([p[0] for p in band], [p[1] for p in band], color='black', lw=1.15,
            solid_joinstyle='round', zorder=2)

ax.axhline(0, color='#56b4e9', lw=1.5, zorder=3)

ax.set_xlim(0, 1393)
ax.set_ylim(-5, 2)
ax.set_xticks(node_k[:-1])
ax.set_xticklabels([])
ax.set_yticks(e_ticks)
ax.set_yticklabels(e_tick_labels, fontsize=16)
ax.tick_params(axis='both', direction='in', length=7, width=1.1, top=True, right=True, color='black')
ax.tick_params(axis='y', pad=11)
for spine in ax.spines.values():
    spine.set_linewidth(1.5)

trans = ax.get_xaxis_transform()
for name, k in zip(label_names, label_k):
    family = 'Liberation Serif' if name == "Γ" else 'Liberation Sans'
    ax.text(k, -0.0275, name, transform=trans, ha='center', va='center', fontsize=16,
            family=family, clip_on=False)

fig.savefig("out.png", dpi=100)
